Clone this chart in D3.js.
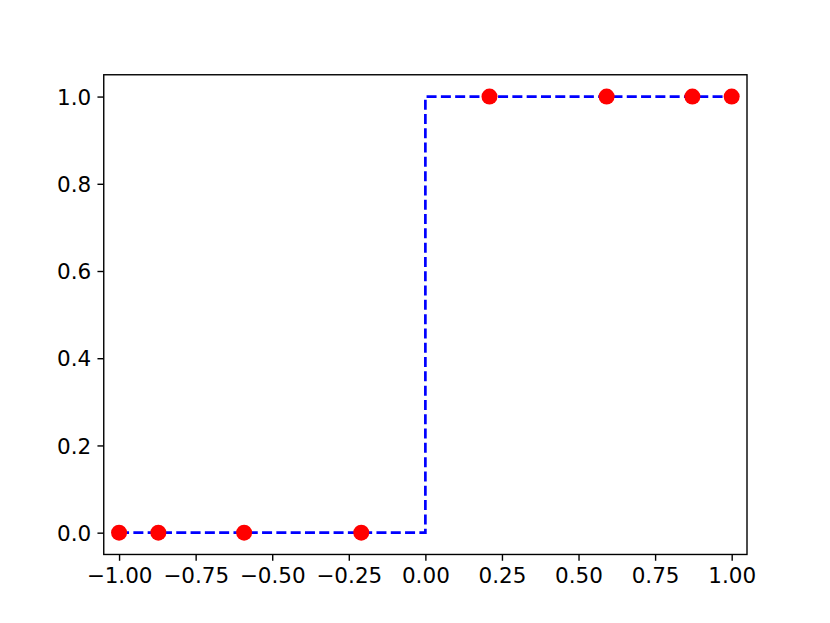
<!DOCTYPE html>
<html>
<head>
<meta charset="utf-8">
<script src="https://cdn.jsdelivr.net/npm/d3@7"></script>
<style>
  html, body { margin: 0; padding: 0; background: #fff; }
  svg { display: block; }
  .tick text { font-family: "DejaVu Sans", sans-serif; font-size: 21.5px; fill: #000; }
</style>
</head>
<body>
<svg id="chart" width="830" height="623"></svg>
<script>
// Data
const nodeX = [-1, -0.87174, -0.59170, -0.20930, 0.20930, 0.59170, 0.87174, 1];
const nodeY = [0, 0, 0, 0, 1, 1, 1, 1];
const stepX = [-1, 0, 0, 1];
const stepY = [0, 0, 1, 1];
const xTicks = [-1.0, -0.75, -0.5, -0.25, 0.0, 0.25, 0.5, 0.75, 1.0];
const yTicks = [0.0, 0.2, 0.4, 0.6, 0.8, 1.0];

const W = 830, H = 623;
const mLeft = 103.75, mRight = 747, mTop = 74.76, mBottom = 554.47;

const svg = d3.select("#chart");
const x = d3.scaleLinear().domain([-1.05, 1.05]).range([mLeft, mRight]);
const y = d3.scaleLinear().domain([-0.05, 1.05]).range([mBottom, mTop]);

const fmtMinus = s => s.replace("-", "\u2212");

// Line
const line = d3.line().x(d => x(d[0])).y(d => y(d[1]));
svg.append("path")
  .datum(stepX.map((v, i) => [v, stepY[i]]))
  .attr("d", line)
  .attr("fill", "none")
  .attr("stroke", "#0000ff")
  .attr("stroke-width", 2.7)
  .attr("stroke-dasharray", "10,4.3");

// Points
svg.append("g").selectAll("circle")
  .data(nodeX.map((v, i) => [v, nodeY[i]]))
  .join("circle")
  .attr("cx", d => x(d[0]))
  .attr("cy", d => y(d[1]))
  .attr("r", 8)
  .attr("fill", "#ff0000");

// Axes
const xAxis = d3.axisBottom(x).tickValues(xTicks)
  .tickFormat(d => fmtMinus(d3.format(".2f")(d)))
  .tickSize(6.3).tickPadding(6);
const yAxis = d3.axisLeft(y).tickValues(yTicks)
  .tickFormat(d => fmtMinus(d3.format(".1f")(d)))
  .tickSize(6.3).tickPadding(6.3);

const gx = svg.append("g").attr("transform", `translate(0,${mBottom})`).call(xAxis);
const gy = svg.append("g").attr("transform", `translate(${mLeft},0)`).call(yAxis);
[gx, gy].forEach(g => {
  g.select(".domain").remove();
  g.selectAll(".tick line").attr("stroke", "#000").attr("stroke-width", 1.4);
});
gx.selectAll(".tick text").attr("dy", "0.76em");
gy.selectAll(".tick text").attr("dy", "0.36em");

// Frame
svg.append("rect")
  .attr("x", mLeft).attr("y", mTop)
  .attr("width", mRight - mLeft).attr("height", mBottom - mTop)
  .attr("fill", "none").attr("stroke", "#000").attr("stroke-width", 1.4);
</script>
</body>
</html>
